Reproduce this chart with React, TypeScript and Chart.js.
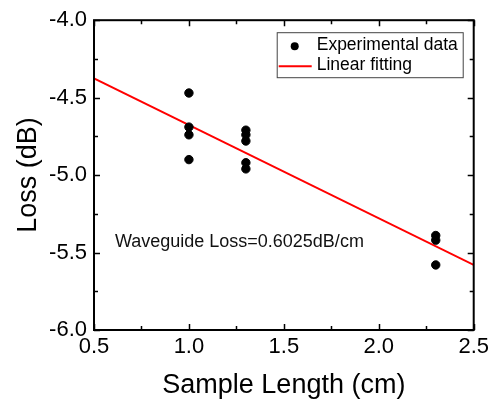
import React, { useEffect, useRef } from "react";
import { Chart, registerables } from "chart.js";

Chart.register(...registerables);

// ---- data ----
const sampleLengths = [1.0, 1.0, 1.0, 1.0, 1.3, 1.3, 1.3, 1.3, 1.3, 2.3, 2.3, 2.3];
const lossValues = [-4.47, -4.69, -4.74, -4.9, -4.71, -4.74, -4.78, -4.92, -4.96, -5.39, -5.42, -5.58];
const fitX = [0.5, 2.5];
const fitY = [-4.375, -5.58];
const xMajorTicks = [0.5, 1.0, 1.5, 2.0, 2.5];
const yMajorTicks = [-6.0, -5.5, -5.0, -4.5, -4.0];
const xMinorTicks = [0.75, 1.25, 1.75, 2.25];
const yMinorTicks = [-5.75, -5.25, -4.75, -4.25];
const seriesLabels = ["Experimental data", "Linear fitting"];
const annotationText = "Waveguide Loss=0.6025dB/cm";
const xTitle = "Sample Length (cm)";
const yTitle = "Loss (dB)";

const FONT = "'Liberation Sans', Arial, Helvetica, sans-serif";

const framePlugin = {
  id: "framePlugin",
  afterDraw(chart: any) {
    const ctx = chart.ctx as CanvasRenderingContext2D;
    const a = chart.chartArea;
    const xs = chart.scales.x;
    const ys = chart.scales.y;
    ctx.save();
    // frame
    ctx.strokeStyle = "#000";
    ctx.lineWidth = 2;
    ctx.strokeRect(a.left, a.top, a.right - a.left, a.bottom - a.top);
    // ticks (inward) on all 4 sides
    ctx.lineWidth = 1.5;
    const drawX = (vals: number[], len: number) => {
      vals.forEach((v) => {
        const px = Math.round(xs.getPixelForValue(v)) + 0.5;
        ctx.beginPath();
        ctx.moveTo(px, a.bottom);
        ctx.lineTo(px, a.bottom - len);
        ctx.moveTo(px, a.top);
        ctx.lineTo(px, a.top + len);
        ctx.stroke();
      });
    };
    const drawY = (vals: number[], len: number) => {
      vals.forEach((v) => {
        const py = Math.round(ys.getPixelForValue(v)) + 0.5;
        ctx.beginPath();
        ctx.moveTo(a.left, py);
        ctx.lineTo(a.left + len, py);
        ctx.moveTo(a.right, py);
        ctx.lineTo(a.right - len, py);
        ctx.stroke();
      });
    };
    drawX(xMajorTicks, 6);
    drawX(xMinorTicks, 4);
    drawY(yMajorTicks, 6);
    drawY(yMinorTicks, 4);

    // legend
    const bw = 186;
    const bh = 45;
    const bx = a.right - 11 - bw;
    const by = a.top + 12;
    ctx.fillStyle = "#fff";
    ctx.fillRect(bx, by, bw, bh);
    ctx.lineWidth = 1;
    ctx.strokeStyle = "#444";
    ctx.strokeRect(bx + 0.5, by + 0.5, bw, bh);
    ctx.fillStyle = "#000";
    ctx.beginPath();
    ctx.arc(bx + 18, by + 14, 4, 0, Math.PI * 2);
    ctx.fill();
    ctx.strokeStyle = "#ff0000";
    ctx.lineWidth = 2;
    ctx.beginPath();
    ctx.moveTo(bx + 2, by + 34);
    ctx.lineTo(bx + 35, by + 34);
    ctx.stroke();
    ctx.fillStyle = "#000";
    ctx.font = `17.5px ${FONT}`;
    ctx.textBaseline = "middle";
    ctx.textAlign = "left";
    ctx.fillText(seriesLabels[0], bx + 40, by + 13);
    ctx.fillText(seriesLabels[1], bx + 40, by + 33);

    // annotation
    ctx.font = `18px ${FONT}`;
    ctx.fillStyle = "#111";
    ctx.fillText(annotationText, xs.getPixelForValue(0.61), ys.getPixelForValue(-5.43));
    ctx.restore();
  },
};

export default function App() {
  const ref = useRef<HTMLCanvasElement | null>(null);
  useEffect(() => {
    if (!ref.current) return;
    const chart = new Chart(ref.current, {
      type: "scatter",
      data: {
        datasets: [
          {
            label: seriesLabels[0],
            data: sampleLengths.map((x, i) => ({ x, y: lossValues[i] })),
            backgroundColor: "#000",
            borderColor: "#000",
            pointRadius: 4.2,
            showLine: false,
          },
          {
            label: seriesLabels[1],
            type: "line",
            data: fitX.map((x, i) => ({ x, y: fitY[i] })),
            borderColor: "#ff0000",
            borderWidth: 2,
            pointRadius: 0,
            fill: false,
          } as any,
        ],
      },
      options: {
        animation: false,
        responsive: false,
        devicePixelRatio: 1,
        layout: { padding: { top: 17, right: 16, left: 0, bottom: 0 } },
        plugins: { legend: { display: false }, tooltip: { enabled: false } },
        scales: {
          x: {
            type: "linear",
            min: 0.5,
            max: 2.5,
            grid: { display: false, drawTicks: false },
            border: { display: false },
            ticks: {
              stepSize: 0.5,
              padding: 4,
              color: "#000",
              font: { family: FONT, size: 22 },
              callback: (v: any) => Number(v).toFixed(1),
            },
            title: {
              display: true,
              text: xTitle,
              color: "#000",
              font: { family: FONT, size: 27 },
              padding: { top: 0, bottom: 0 },
            },
            afterFit: (s: any) => {
              s.height = 72;
            },
          },
          y: {
            type: "linear",
            min: -6,
            max: -4,
            grid: { display: false, drawTicks: false },
            border: { display: false },
            ticks: {
              stepSize: 0.5,
              padding: 7,
              color: "#000",
              font: { family: FONT, size: 22 },
              callback: (v: any) => Number(v).toFixed(1),
            },
            title: {
              display: true,
              text: yTitle,
              color: "#000",
              font: { family: FONT, size: 27 },
              padding: { top: 12, bottom: 0 },
            },
            afterFit: (s: any) => {
              s.width = 94;
            },
          },
        },
      },
      plugins: [framePlugin],
    });
    return () => chart.destroy();
  }, []);
  return (
    <div style={{ position: "fixed", left: 0, top: 0, width: 493, height: 402, background: "#fff" }}>
      <canvas ref={ref} width={493} height={402} style={{ width: 493, height: 402 }} />
    </div>
  );
}
